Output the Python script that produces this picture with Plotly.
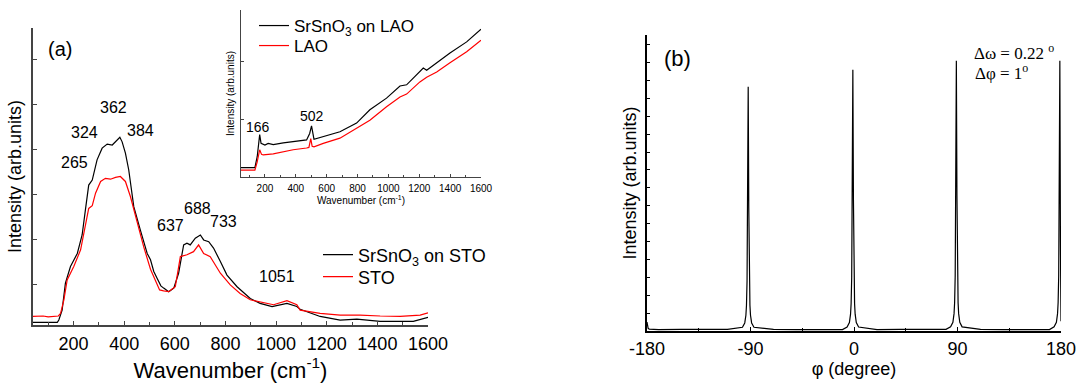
import plotly.graph_objects as go

W, H = 1078, 387

# ---------------- Panel (a): Raman spectra, SrSnO3 on STO vs STO ----------------
film_sto_wn = [40, 90, 136, 142, 155, 168, 188, 215, 234, 247, 260, 274, 293, 313, 333, 353,
               372, 383, 392, 405, 418, 438, 464, 491, 504, 517, 530, 545, 556, 576, 596, 615,
               635, 648, 661, 681, 701, 714, 734, 753, 780, 806, 846, 898, 937, 984, 1043,
               1082, 1095, 1174, 1253, 1319, 1411, 1542, 1600]
film_sto_int = [0.17, 0.17, 0.17, 0.22, 0.44, 1.04, 1.41, 1.70, 2.11, 2.67, 3.22, 3.33, 3.78,
                4.04, 4.13, 4.11, 4.21, 4.28, 4.18, 3.93, 3.56, 2.74, 2.22, 1.70, 1.56, 1.30,
                1.15, 0.98, 0.93, 0.85, 0.93, 1.26, 1.89, 1.93, 1.89, 2.04, 2.11, 2.00, 1.96,
                1.82, 1.52, 1.22, 0.96, 0.70, 0.59, 0.52, 0.59, 0.52, 0.46, 0.30, 0.22, 0.24,
                0.19, 0.19, 0.28]

sto_wn = [40, 80, 100, 130, 140, 149, 162, 175, 201, 228, 247, 260, 274, 287, 307, 326, 346,
          366, 385, 405, 425, 451, 477, 504, 530, 540, 556, 576, 602, 622, 648, 674, 694, 714,
          740, 780, 819, 858, 898, 937, 964, 990, 1043, 1082, 1095, 1174, 1253, 1332, 1411,
          1490, 1569, 1600]
sto_int = [0.30, 0.31, 0.29, 0.30, 0.31, 0.37, 0.67, 1.11, 1.41, 1.78, 2.37, 2.70, 2.76, 3.04,
           3.30, 3.37, 3.35, 3.39, 3.41, 3.30, 2.96, 2.37, 1.85, 1.35, 0.99, 0.89, 0.87, 0.85,
           0.96, 1.63, 1.67, 1.74, 1.89, 1.70, 1.63, 1.26, 1.00, 0.81, 0.67, 0.63, 0.59, 0.56,
           0.65, 0.56, 0.44, 0.37, 0.33, 0.33, 0.31, 0.30, 0.33, 0.38]

peak_labels_a = ["265", "324", "362", "384", "637", "688", "733", "1051"]
peak_label_x = [203, 243, 356, 464, 582, 688, 794, 1002]
peak_label_y = [3.72, 4.39, 4.95, 4.44, 2.33, 2.70, 2.41, 1.18]

# ---------------- Inset: SrSnO3 on LAO vs LAO ----------------
film_lao_wn = [45, 100, 135, 150, 160, 166, 175, 200, 221, 254, 319, 383, 470, 490, 502, 518,
               578, 686, 794, 880, 988, 1075, 1118, 1204, 1226, 1248, 1313, 1399, 1507, 1600]
film_lao_int = [0.16, 0.16, 0.16, 0.35, 0.62, 0.73, 0.58, 0.55, 0.58, 0.56, 0.59, 0.61, 0.64,
                0.75, 0.88, 0.65, 0.70, 0.78, 0.93, 1.16, 1.36, 1.57, 1.59, 1.81, 1.88, 1.84,
                1.97, 2.14, 2.33, 2.55]

lao_wn = [45, 100, 135, 150, 160, 166, 178, 189, 254, 383, 470, 485, 497, 506, 518, 578, 686,
          794, 880, 988, 1075, 1118, 1204, 1248, 1313, 1399, 1507, 1600]
lao_int = [0.12, 0.12, 0.12, 0.26, 0.40, 0.47, 0.39, 0.38, 0.40, 0.47, 0.50, 0.51, 0.66, 0.53,
           0.52, 0.58, 0.67, 0.84, 0.98, 1.21, 1.38, 1.43, 1.64, 1.72, 1.81, 1.97, 2.16, 2.36]

inset_labels = ["166", "502"]
inset_label_x = [154, 503]
inset_label_y = [0.87, 1.05]

# ---------------- Panel (b): phi scan ----------------
phi = [-180, -179.5, -179, -178, -170, -150, -130, -110, -97, -95, -94, -93.5, -93, -92.5,
       -92, -91.5, -91, -90.5, -90, -89, -87, -70, -50, -30, -10, -6, -4, -3, -2.5, -2, -1.5,
       -1, -0.5, 0, 0.5, 1, 2, 4, 20, 40, 60, 80, 84, 86, 87, 87.5, 88, 88.5, 89, 89.5, 90,
       90.5, 91, 92, 94, 110, 130, 150, 170, 174, 176, 177, 177.5, 178, 178.5, 179, 179.5, 180]
phi_int = [0.50, 0.25, 0.15, 0.10, 0.08, 0.09, 0.08, 0.09, 0.21, 0.45, 0.88, 1.44, 2.80, 6.90,
           13.65, 6.90, 2.80, 1.44, 0.88, 0.45, 0.21, 0.09, 0.08, 0.09, 0.08, 0.22, 0.47, 0.94,
           1.54, 3.00, 7.38, 14.60, 7.38, 3.00, 1.54, 0.94, 0.47, 0.22, 0.08, 0.09, 0.08, 0.09,
           0.23, 0.49, 0.97, 1.59, 3.10, 7.63, 15.10, 7.63, 3.10, 1.59, 0.97, 0.49, 0.23, 0.09,
           0.08, 0.09, 0.08, 0.23, 0.49, 0.97, 1.59, 3.10, 7.63, 15.10, 5.00, 0.55]
phi_tickvals = [-180, -90, 0, 90, 180]
phi_ticktext = ["-180", "-90", "0", "90", "180"]

SANS = "Liberation Sans, Arial, sans-serif"
SERIF = "Liberation Serif, Times New Roman, serif"
AX_A = "#444444"

def px_x(p):
    return p / W

def px_y(p):
    return (H - p) / H

fig = go.Figure()

fig.add_trace(go.Scatter(x=film_sto_wn, y=film_sto_int, mode="lines",
                         line=dict(color="black", width=1.2),
                         name="SrSnO<sub>3</sub> on STO", xaxis="x", yaxis="y", legend="legend"))
fig.add_trace(go.Scatter(x=sto_wn, y=sto_int, mode="lines",
                         line=dict(color="#ff0000", width=1.2),
                         name="STO", xaxis="x", yaxis="y", legend="legend3"))
fig.add_trace(go.Scatter(x=film_lao_wn, y=film_lao_int, mode="lines",
                         line=dict(color="black", width=1.2),
                         name="SrSnO<sub>3</sub> on LAO", xaxis="x2", yaxis="y2", legend="legend2"))
fig.add_trace(go.Scatter(x=lao_wn, y=lao_int, mode="lines",
                         line=dict(color="#ff0000", width=1.2),
                         name="LAO", xaxis="x2", yaxis="y2", legend="legend4"))
fig.add_trace(go.Scatter(x=phi, y=phi_int, mode="lines",
                         line=dict(color="black", width=1.2),
                         showlegend=False, xaxis="x3", yaxis="y3"))

axis_common = dict(showgrid=False, zeroline=False, showline=True, ticks="inside",
                   automargin=False)

def legend_at(xp, yp, size=18):
    return dict(x=px_x(xp), y=px_y(yp), xanchor="left", yanchor="middle",
                bgcolor="rgba(0,0,0,0)", borderwidth=0, font=dict(size=size),
                tracegroupgap=0, itemwidth=30)

fig.update_layout(
    width=W, height=H,
    margin=dict(l=0, r=0, t=0, b=0, pad=0, autoexpand=False),
    paper_bgcolor="white", plot_bgcolor="rgba(0,0,0,0)",
    font=dict(family=SANS, color="black"),
    xaxis=dict(**axis_common, domain=[px_x(33), px_x(428)], anchor="y", range=[40, 1600],
               tick0=0, dtick=200, ticklen=4, tickwidth=1, tickcolor=AX_A,
               linecolor=AX_A, linewidth=1.5,
               minor=dict(dtick=100, ticks="inside", ticklen=3, tickcolor=AX_A),
               tickfont=dict(size=18), ticklabelstandoff=2,
               title=dict(text="Wavenumber (cm<sup>-1</sup>)", font=dict(size=22), standoff=2)),
    yaxis=dict(**axis_common, domain=[px_y(325), px_y(28)], anchor="x", range=[0.11, 6.71],
               tick0=0, dtick=1, ticklen=4, tickwidth=1, tickcolor=AX_A,
               linecolor=AX_A, linewidth=1.5, showticklabels=False,
               title=dict(text="Intensity (arb.units)", font=dict(size=18), standoff=5)),
    xaxis2=dict(**axis_common, domain=[px_x(241), px_x(481)], anchor="y2", range=[45, 1600],
                tick0=0, dtick=200, ticklen=3, tickwidth=1, tickcolor=AX_A,
                linecolor=AX_A, linewidth=1.2,
                minor=dict(dtick=100, ticks="inside", ticklen=2, tickcolor=AX_A),
                tickfont=dict(size=10), ticklabelstandoff=2,
                title=dict(text="Wavenumber (cm<sup>-1</sup>)", font=dict(size=10), standoff=2)),
    yaxis2=dict(**axis_common, domain=[px_y(177), px_y(10)], anchor="x2", range=[0, 2.88],
                tick0=0, dtick=1, ticklen=3, tickwidth=1, tickcolor=AX_A,
                linecolor=AX_A, linewidth=1.2, showticklabels=False,
                title=dict(text="Intensity (arb.units)", font=dict(size=10), standoff=3)),
    xaxis3=dict(**axis_common, domain=[px_x(647), px_x(1061)], anchor="y3", range=[-180, 180],
                tickvals=phi_tickvals, ticktext=phi_ticktext, ticklen=4, tickwidth=1,
                tickcolor="black", linecolor="black", linewidth=1.5,
                minor=dict(dtick=45, tick0=0, ticks="inside", ticklen=3, tickcolor="black"),
                tickfont=dict(size=18), ticklabelstandoff=1,
                title=dict(text="φ (degree)", font=dict(size=18), standoff=0)),
    yaxis3=dict(**axis_common, domain=[px_y(331), px_y(35)], anchor="x3", range=[0, 16.54],
                tick0=0, dtick=1, ticklen=3, tickwidth=1, tickcolor="black",
                linecolor="black", linewidth=1.5, showticklabels=False,
                title=dict(text="Intensity (arb.units)", font=dict(size=18), standoff=4)),
    legend=legend_at(318, 255),
    legend3=legend_at(318, 277),
    legend2=legend_at(254, 26, 17),
    legend4=legend_at(254, 46, 17),
)

annotations = []
for t, xv, yv in zip(peak_labels_a, peak_label_x, peak_label_y):
    annotations.append(dict(text=t, x=xv, y=yv, xref="x", yref="y", showarrow=False,
                            xanchor="center", yanchor="middle",
                            font=dict(size=16, family=SANS)))
for t, xv, yv in zip(inset_labels, inset_label_x, inset_label_y):
    annotations.append(dict(text=t, x=xv, y=yv, xref="x2", yref="y2", showarrow=False,
                            xanchor="center", yanchor="middle",
                            font=dict(size=14, family=SANS)))
annotations.append(dict(text="(a)", x=px_x(59.5), y=px_y(49), xref="paper", yref="paper",
                        xanchor="center", yanchor="middle",
                        showarrow=False, font=dict(size=20, family=SANS)))
annotations.append(dict(text="(b)", x=px_x(677.5), y=px_y(58), xref="paper", yref="paper",
                        xanchor="center", yanchor="middle",
                        showarrow=False, font=dict(size=22, family=SANS)))
annotations.append(dict(text="Δω = 0.22 <sup>o</sup>", x=px_x(972), y=px_y(52), xref="paper",
                        yref="paper", xanchor="left", yanchor="middle", showarrow=False,
                        font=dict(size=17, family=SERIF)))
annotations.append(dict(text="Δφ = 1<sup>o</sup>", x=px_x(973), y=px_y(72), xref="paper",
                        yref="paper", xanchor="left", yanchor="middle", showarrow=False,
                        font=dict(size=17, family=SERIF)))
fig.update_layout(annotations=annotations)

fig.write_html("out.html", config={"displayModeBar": False},
               post_script="document.body.style.margin='0';document.body.style.padding='0';"
                           "document.body.style.overflow='hidden';")
